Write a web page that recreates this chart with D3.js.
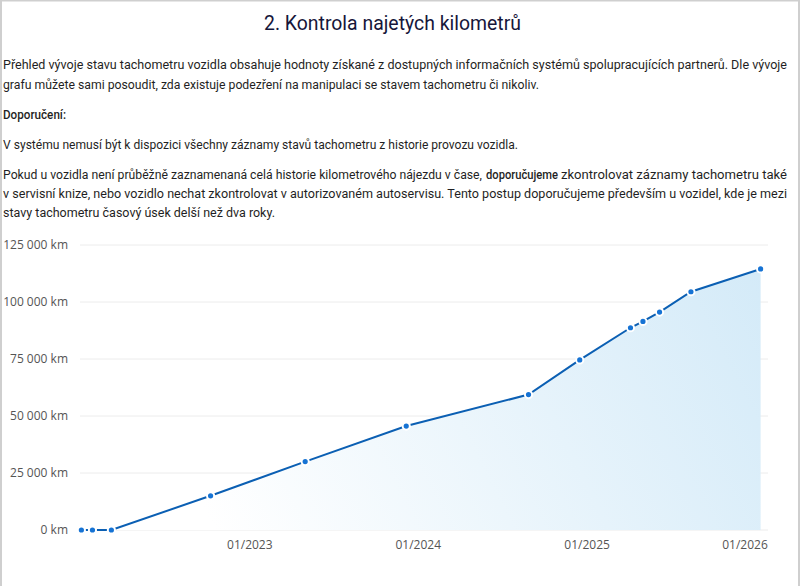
<!DOCTYPE html>
<html>
<head>
<meta charset="utf-8">
<script src="https://cdn.jsdelivr.net/npm/d3@7"></script>
<style>
  html, body { margin: 0; padding: 0; background: #fff; }
  #page { width: 800px; height: 586px; position: relative; overflow: hidden; }
  svg { display: block; font-family: Roboto, "Noto Sans", sans-serif; }
</style>
</head>
<body>
<div id="page"></div>
<script>
// odometer readings
const dates = ["2022-01-01", "2022-01-25", "2022-03-07", "2022-10-08", "2023-05-01", "2023-12-06",
  "2024-08-27", "2024-12-16", "2025-04-05", "2025-05-02", "2025-06-07", "2025-08-14", "2026-01-12"];
const kms = [0, 0, 0, 15000, 30000, 45600, 59400, 74600, 88700, 91500, 95600, 104500, 114500];
const yTicks = [0, 25000, 50000, 75000, 100000, 125000];
const xTicks = ["2023-01-01", "2024-01-01", "2025-01-01", "2026-01-01"];

const title = "2. Kontrola najetých kilometrů";
const para1 = [
  "Přehled vývoje stavu tachometru vozidla obsahuje hodnoty získané z dostupných informačních systémů spolupracujících partnerů. Dle vývoje",
  "grafu můžete sami posoudit, zda existuje podezření na manipulaci se stavem tachometru či nikoliv."
];
const heading = "Doporučení:";
const para2 = "V systému nemusí být k dispozici všechny záznamy stavů tachometru z historie provozu vozidla.";
const para3 = [
  "Pokud u vozidla není průběžně zaznamenaná celá historie kilometrového nájezdu v čase,",
  "doporučujeme",
  "zkontrolovat záznamy tachometru také",
  "v servisní knize, nebo vozidlo nechat zkontrolovat v autorizovaném autoservisu. Tento postup doporučujeme především u vozidel, kde je mezi",
  "stavy tachometru časový úsek delší než dva roky."
];

const W = 800, H = 586;
const parse = d3.timeParse("%Y-%m-%d");
const data = dates.map((d, i) => ({ date: parse(d), km: kms[i] }));

const svg = d3.select('#page')
  .append('svg')
  .attr('width', W)
  .attr('height', H);

// frame
svg.append('path')
  .attr('d', `M1,${H} V0.5 H${W - 1} V${H}`)
  .attr('fill', 'none')
  .attr('stroke', '#cfcfcf')
  .attr('stroke-width', 2);

// ---- text block ----
const textColor = '#1f1f24';
svg.append('text')
  .attr('x', 264).attr('y', 30)
  .attr('font-size', 21)
  .attr('fill', '#16163a')
  .attr('textLength', 257)
  .attr('lengthAdjust', 'spacingAndGlyphs')
  .text(title);

// text fitted to the widths seen in the picture
function line(x0, y, txt, width, weight) {
  svg.append('text')
    .attr('x', x0).attr('y', y)
    .attr('font-size', 12.5)
    .attr('font-weight', weight || 400)
    .attr('fill', textColor)
    .attr('textLength', width)
    .attr('lengthAdjust', 'spacingAndGlyphs')
    .text(txt);
}
line(3, 69, para1[0], 784);
line(3, 89, para1[1], 536);
line(3, 119, heading, 63, 500);
line(3, 149, para2, 515);
line(3, 179, para3[0], 479);
line(486, 179, para3[1], 72, 500);
line(561, 179, para3[2], 226);
line(3, 198, para3[3], 784);
line(3, 217, para3[4], 272);

// ---- chart ----
const x = d3.scaleTime()
  .domain([parse("2021-12-29"), parse("2026-01-28")])
  .range([80, 768]);
const y = d3.scaleLinear()
  .domain([0, 125000])
  .range([530, 245]);

const fmt = v => d3.format(",")(v).replace(/,/g, " ") + " km";

const grid = svg.append('g');
grid.selectAll('line')
  .data(yTicks)
  .enter()
  .append('line')
  .attr('x1', x.range()[0])
  .attr('x2', x.range()[1])
  .attr('y1', d => y(d))
  .attr('y2', d => y(d))
  .attr('stroke', '#ececec')
  .attr('stroke-width', 1);

grid.selectAll('text')
  .data(yTicks)
  .enter()
  .append('text')
  .attr('x', 68)
  .attr('y', d => y(d))
  .attr('dy', '0.35em')
  .attr('text-anchor', 'end')
  .attr('font-family', '"Open Sans", sans-serif')
  .attr('font-size', 12)
  .attr('fill', '#555')
  .text(fmt);

const xAxis = svg.append('g');
xAxis.selectAll('text')
  .data(xTicks.map(parse))
  .enter()
  .append('text')
  .attr('x', d => Math.min(x(d), x.range()[1] - 23))
  .attr('y', 549)
  .attr('text-anchor', 'middle')
  .attr('font-family', '"Open Sans", sans-serif')
  .attr('font-size', 12)
  .attr('fill', '#555')
  .text(d3.timeFormat("%m/%Y"));

// gradient for area
const grad = svg.append('defs').append('linearGradient')
  .attr('id', 'areaGrad')
  .attr('gradientUnits', 'userSpaceOnUse')
  .attr('x1', 770).attr('y1', 260)
  .attr('x2', 220).attr('y2', 540);
grad.append('stop').attr('offset', 0).attr('stop-color', '#d3eaf8');
grad.append('stop').attr('offset', 1).attr('stop-color', '#ffffff');

const area = d3.area()
  .x(d => x(d.date))
  .y0(y(0))
  .y1(d => y(d.km));
svg.append('path')
  .datum(data)
  .attr('d', area)
  .attr('fill', 'url(#areaGrad)');

const lineGen = d3.line()
  .x(d => x(d.date))
  .y(d => y(d.km));
svg.append('path')
  .datum(data)
  .attr('d', lineGen)
  .attr('fill', 'none')
  .attr('stroke', '#0b5fb3')
  .attr('stroke-width', 2);

svg.selectAll('circle')
  .data(data)
  .enter()
  .append('circle')
  .attr('cx', d => x(d.date))
  .attr('cy', d => y(d.km))
  .attr('r', 3.6)
  .attr('fill', '#1673d4')
  .attr('stroke', '#fff')
  .attr('stroke-width', 2);
</script>
</body>
</html>
